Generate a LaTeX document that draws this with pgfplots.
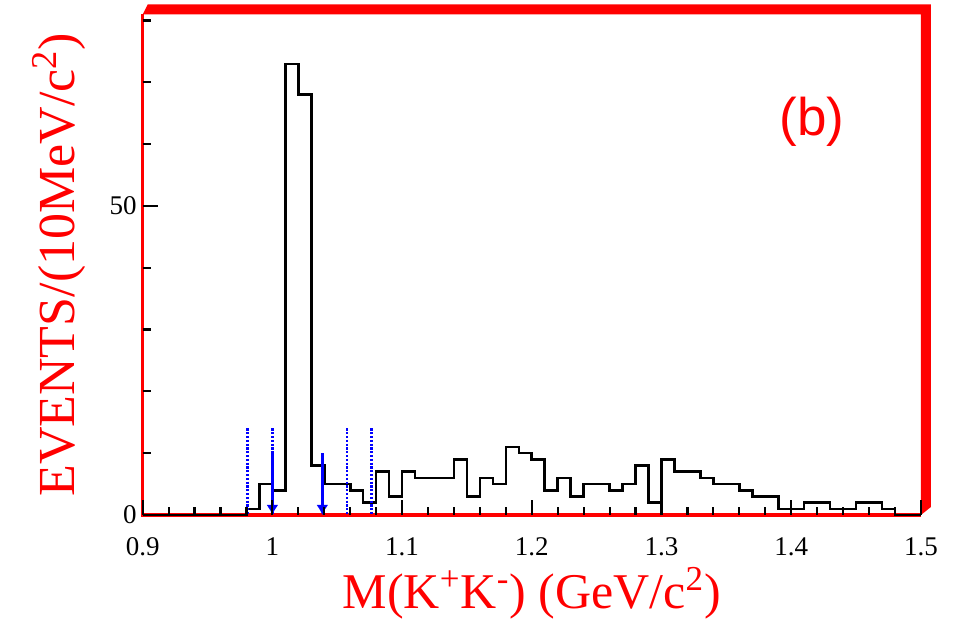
\documentclass[border=0pt]{standalone}
\usepackage{fontspec}
\setmainfont{Liberation Serif}
\newfontfamily\labelsans{Liberation Sans}
\usepackage{pgfplots}
\pgfplotsset{compat=1.18}
\usetikzlibrary{arrows.meta}
\definecolor{rootred}{RGB}{255,0,0}
\definecolor{rootblue}{RGB}{0,0,255}

% M(K+K-) spectrum, 10 MeV bins (left edge, entries)
\begin{document}
\begin{tikzpicture}
\path[use as bounding box] (-71.35pt,-52pt) rectangle (406.15pt,257.5pt);
\begin{axis}[
  at={(0,0)}, anchor=south west,
  scale only axis, width=389.1pt, height=250.3pt,
  xmin=0.9, xmax=1.5, ymin=0, ymax=81,
  clip=false, axis on top,
  axis line style={draw=none},
  xtick={0.9,1,1.1,1.2,1.3,1.4,1.5},
  xticklabels={0.9,1,1.1,1.2,1.3,1.4,1.5},
  minor x tick num=4,
  ytick={0,50}, yticklabels={0,50},
  minor ytick={10,20,30,40,60,70,80},
  xtick pos=lower, ytick pos=left, tick align=inside,
  major tick length=7.5pt, minor tick length=4.2pt,
  tick style={black, line width=1.1pt},
  xticklabel style={anchor=base, inner sep=0pt, yshift=-20.5pt, font=\fontsize{13.5}{13.5}\selectfont},
  yticklabel style={anchor=east, inner sep=0pt, xshift=-2.85pt, font=\fontsize{13.5}{13.5}\selectfont},
]
% frame: thin left/bottom, shaded top/right border
\draw[rootred, line width=1.6pt] (rel axis cs:0,1) -- (rel axis cs:0,0) -- (rel axis cs:1,0);
\fill[rootred] (rel axis cs:0,1) -- ([shift={(2.5pt,5pt)}]rel axis cs:0,1)
  -- ([shift={(5pt,5pt)}]rel axis cs:1,1) -- ([shift={(5pt,4pt)}]rel axis cs:1,0)
  -- (rel axis cs:1,0) -- (rel axis cs:1,1) -- cycle;

\addplot[const plot, black, line width=1.3pt] table {
x y
0.90 0
0.91 0
0.92 0
0.93 0
0.94 0
0.95 0
0.96 0
0.97 0
0.98 1
0.99 5
1.00 4
1.01 73
1.02 68
1.03 8
1.04 5
1.05 5
1.06 4
1.07 2
1.08 7
1.09 3
1.10 7
1.11 6
1.12 6
1.13 6
1.14 9
1.15 3
1.16 6
1.17 5
1.18 11
1.19 10
1.20 9
1.21 4
1.22 6
1.23 3
1.24 5
1.25 5
1.26 4
1.27 5
1.28 8
1.29 2
1.30 9
1.31 7
1.32 7
1.33 6
1.34 5
1.35 5
1.36 4
1.37 3
1.38 3
1.39 1
1.40 1
1.41 2
1.42 2
1.43 1
1.44 1
1.45 2
1.46 2
1.47 1
1.48 0
1.49 0
1.50 0
};

% sideband boundaries
\addplot[rootblue, line width=1.3pt, dash pattern=on 1.1pt off 0.8pt] coordinates {(0.981,14) (0.981,0)};
\addplot[rootblue, line width=1.3pt, dash pattern=on 1.1pt off 0.8pt] coordinates {(1.000,14) (1.000,0)};
\addplot[rootblue, line width=1.3pt, dash pattern=on 1.1pt off 0.8pt] coordinates {(1.0575,14) (1.0575,0)};
\addplot[rootblue, line width=1.3pt, dash pattern=on 1.1pt off 0.8pt] coordinates {(1.0765,14) (1.0765,0)};
% signal window
\addplot[rootblue, line width=1.5pt, -{Latex[length=5pt,width=6pt]}] coordinates {(1.000,10) (1.000,0)};
\addplot[rootblue, line width=1.5pt, -{Latex[length=5pt,width=6pt]}] coordinates {(1.0385,10) (1.0385,0)};

\node[anchor=base, text=rootred, inner sep=0pt, font=\fontsize{25}{25}\selectfont]
  at ([yshift=-46.65pt]rel axis cs:0.5,0) {M(K\textsuperscript{+}K\textsuperscript{-}) (GeV/c\textsuperscript{2})};
\node[anchor=base, rotate=90, text=rootred, inner sep=0pt, font=\fontsize{26}{26}\selectfont]
  at ([xshift=-33.85pt]rel axis cs:0,0.5) {EVENTS/(10MeV/c\textsuperscript{2})};
\node[text=rootred, inner sep=0pt, font=\labelsans\fontsize{26.5}{26.5}\selectfont]
  at (axis cs:1.416,63.6) {(b)};
\end{axis}
\end{tikzpicture}
\end{document}
